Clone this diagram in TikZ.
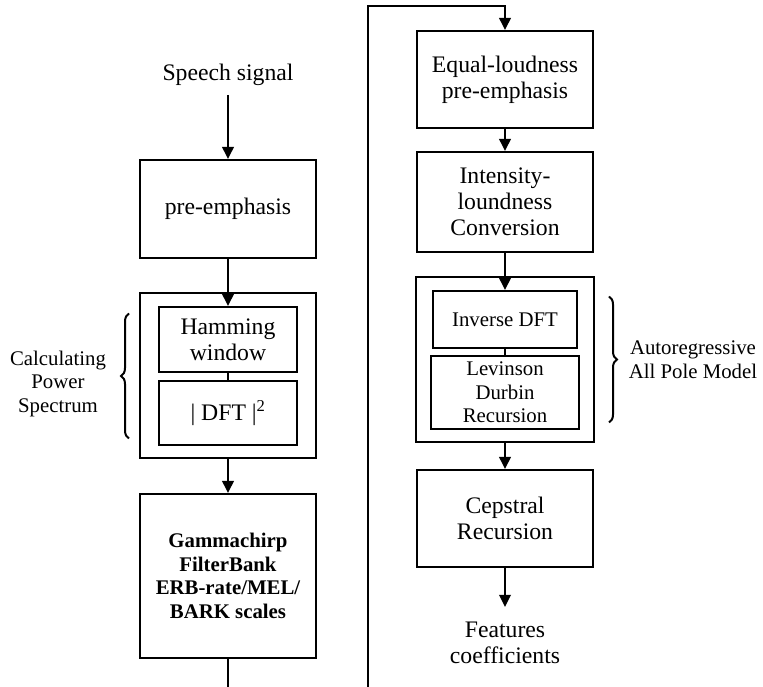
\documentclass[tikz,border=0pt]{standalone}
\usepackage{fontspec}
\setmainfont{Liberation Serif}
\usetikzlibrary{arrows.meta,calc,positioning,fit,decorations.pathreplacing}
\newcommand{\bigtxt}{\fontsize{23.7}{26}\selectfont}
\newcommand{\smalltxt}{\fontsize{20.8}{23.6}\selectfont}

\begin{document}
\begin{tikzpicture}[
    x=1pt, y=1pt,
    block/.style={draw, line width=2pt, minimum width=176pt,
                  minimum height=97pt, align=center, font=\bigtxt,
                  inner sep=0pt},
    subblock/.style={draw, line width=2pt, align=center, inner sep=0pt},
    group/.style={draw, line width=2pt, inner xsep=18pt, inner ysep=12.5pt},
    txt/.style={align=center, inner sep=0pt},
    arrow/.style={-{Triangle[length=12pt, width=11.5pt]}, line width=2pt},
    link/.style={line width=2pt},
    bracket/.style={decorate, decoration={brace, amplitude=8pt},
                    line width=2pt},
]
\useasboundingbox (0,0) rectangle (763,687);
\clip (0,0) rectangle (763,687);

% Front end
\node[txt, font=\bigtxt, inner ysep=9pt] (sig) at (228,612) {Speech signal};
\node[block, minimum height=98pt] (pre) at (228,478) {pre-emphasis};
\node[subblock, font=\bigtxt, minimum width=138pt, minimum height=65pt]
     (ham) at (228,347.5) {Hamming\\window};
\node[subblock, font=\bigtxt, minimum width=138pt, minimum height=64pt]
     (dft) at (228,274) {| DFT |\textsuperscript{2}};
\node[group, fit=(ham)(dft)] (ps) {};
\node[block, minimum height=164pt, font=\smalltxt\bfseries] (gam) at (228,111)
     {Gammachirp\\FilterBank\\ERB-rate/MEL/\\BARK scales};

% Back end
\coordinate (loop) at (368,681);
\node[block, minimum height=97pt] (eq) at (505,607.5)
     {Equal-loudness\\pre-emphasis};
\node[block, minimum height=100pt] (int) at (505,485)
     {Intensity-\\loundness\\Conversion};
\node[subblock, font=\smalltxt, minimum width=144pt, minimum height=57pt]
     (idft) at (505,367.5) {Inverse DFT};
\node[subblock, font=\smalltxt, minimum width=148pt, minimum height=73pt]
     (lev) at (505,294.5) {Levinson\\Durbin\\Recursion};
\node[group, inner xsep=14pt, fit=(idft)(lev)] (ar) {};
\node[block, minimum height=97pt] (cep) at (505,168.5) {Cepstral\\Recursion};
\node[txt, font=\bigtxt, inner ysep=15pt] (feat) at (505,44)
     {Features\\coefficients};

% Arrows
\draw[arrow] (sig) -- (pre);
\draw[arrow] (pre) -- (ham);
\draw[link] (ham) -- (dft);
\draw[arrow] (ps) -- (gam);
\draw[arrow] (gam.south) -- ++(0,-60) -| (loop) -| (eq.north);
\draw[arrow] (eq) -- (int);
\draw[arrow] (int) -- (idft);
\draw[link] (idft) -- (lev);
\draw[arrow] (ar) -- (cep);
\draw[arrow] (cep) -- (feat);

% Braces
\draw[bracket] ($(ps.south west)+(-10,21)$) -- ($(ps.north west)+(-10,-21)$);
\node[txt, font=\smalltxt] (pslab) at (58,303) {Calculating\\Power\\Spectrum};
\draw[bracket] ($(ar.north east)+(14,-20)$) -- ($(ar.south east)+(14,21)$);
\node[txt, font=\smalltxt] (arlab) at (693,327) {Autoregressive\\All Pole Model};
\end{tikzpicture}
\end{document}
